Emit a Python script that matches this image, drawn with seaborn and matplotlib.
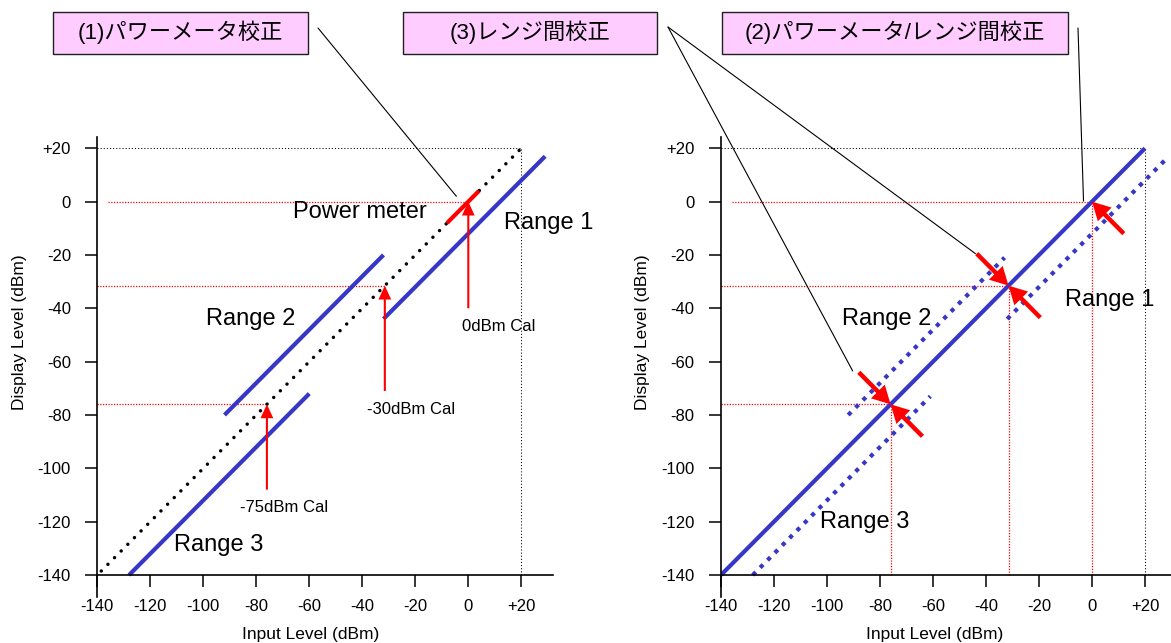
import numpy as np
import matplotlib
matplotlib.use("Agg")
import matplotlib.pyplot as plt
import seaborn as sns
from matplotlib.patches import Rectangle, ConnectionPatch

# ---- chart values (dBm) -------------------------------------------------
ticks = [-140, -120, -100, -80, -60, -40, -20, 0, 20]
tick_labels = ["-140", "-120", "-100", "-80", "-60", "-40", "-20", "0", "+20"]

# power meter reference: display level equals input level
pm_span = [-140, 20]
pm_cal_segment = [-8, 4]

# receiver ranges: input span and display offset against the power meter
range_names = ["Range 1", "Range 2", "Range 3"]
range_start = [-32, -92, -128]
range_stop = [29, -32, -60]
range_offset = [-12, 12, -12]

# calibration levels
cal_levels = [0, -31.5, -76]
cal_labels = ["0dBm Cal", "-30dBm Cal", "-75dBm Cal"]
cal_arrow_from = [-40, -71, -108]
cal_dotted_from = [-136, -140, -140]

# headings for the three calibration steps
step_titles = ["(1)パワーメータ校正", "(3)レンジ間校正", "(2)パワーメータ/レンジ間校正"]

# ---- styling --------------------------------------------------------------
W, H, DPI = 1171, 643, 100
PX_X, PX_Y = 2.65, 2.667          # pixels per dB
TOP_PX, BOT_PX, ZERO140_PX = 137.3, 596.7, 575.0
BLUE = "#3636C8"
RED = "#FF0000"
PINK = "#FFCCFF"
RED_DOTS = (0, (1, 1.2))

sns.set_theme(style="white")
plt.rcParams["font.family"] = ["Liberation Sans", "Noto Sans CJK JP", "DejaVu Sans"]

fig = plt.figure(figsize=(W / DPI, H / DPI), dpi=DPI)


def make_axes(left_px, right_px):
    ax = fig.add_axes([left_px / W, 1 - BOT_PX / H,
                       (right_px - left_px) / W, (BOT_PX - TOP_PX) / H])
    ax.set_facecolor("none")
    ax.set_xlim(-140, -140 + (right_px - left_px) / PX_X)
    ylo = -140 - (BOT_PX - ZERO140_PX) / PX_Y
    ax.set_ylim(ylo, ylo + (BOT_PX - TOP_PX) / PX_Y)
    for side in ("top", "right"):
        ax.spines[side].set_visible(False)
    for side in ("left", "bottom"):
        ax.spines[side].set_color("black")
        ax.spines[side].set_linewidth(1.2)
    ax.spines["bottom"].set_position(("data", -140))
    ax.set_xticks(ticks, labels=tick_labels)
    ax.set_yticks(ticks, labels=tick_labels)
    ax.tick_params(axis="both", which="major", direction="out", length=8.5,
                   width=1.1, color="black", labelsize=12, labelcolor="black",
                   bottom=True, left=True)
    ax.tick_params(axis="x", pad=9)
    ax.tick_params(axis="y", pad=10.5)
    ax.grid(False)

    width_px = right_px - left_px
    height_px = BOT_PX - TOP_PX
    ax.set_ylabel("Display Level (dBm)", fontsize=12.5, color="black",
                  va="center", ha="center")
    ax.yaxis.set_label_coords(-78 / width_px, (BOT_PX - 332.5) / height_px)
    ax.set_xlabel("Input Level (dBm)", fontsize=12.5, color="black",
                  va="center", ha="center")
    ax.xaxis.set_label_coords((-59.5 + 140) * PX_X / width_px,
                              (BOT_PX - 634) / height_px)

    # frame reference at +20 dBm
    ax.hlines(20, -140, 20, colors="black", linestyles=(0, (1, 2)), lw=0.75)
    ax.vlines(20, -140, 20, colors="black", linestyles=(0, (1, 2)), lw=0.75)
    return ax


def diag(ax, x0, x1, offset, **kw):
    xs = np.array([x0, x1], dtype=float)
    sns.lineplot(x=xs, y=xs + offset, ax=ax, estimator=None, sort=False, **kw)


def arrow(ax, tip, tail, width, headwidth, headlength):
    ax.annotate("", xy=tip, xytext=tail,
                arrowprops=dict(width=width, headwidth=headwidth,
                                headlength=headlength, shrink=0,
                                color=RED, lw=0))


# ---- left panel: (1) power meter calibration -----------------------------
axL = make_axes(97.3, 553.0)

for lvl, start in zip(cal_levels, cal_dotted_from):
    axL.hlines(lvl, start, lvl, colors=RED, linestyles=RED_DOTS, lw=0.9)

diag(axL, pm_span[0] + 1.5, pm_span[1], 0, color="black", lw=2.5,
     linestyle=(0, (0.01, 2.7)), dash_capstyle="round")
for x0, x1, off in zip(range_start, range_stop, range_offset):
    diag(axL, x0, x1, off, color=BLUE, lw=3, solid_capstyle="butt")
diag(axL, pm_cal_segment[0], pm_cal_segment[1], 0, color=RED, lw=3,
     solid_capstyle="butt")

for lvl, base in zip(cal_levels, cal_arrow_from):
    arrow(axL, (lvl, lvl), (lvl, base), 1.5, 9.2, 10)

axL.text(-40.9, -4.0, "Power meter", fontsize=17, ha="center", va="center", color="black")
for name, pos in zip(range_names, [(30.2, -8.2), (-82.2, -44.1), (-94.2, -128.7)]):
    axL.text(*pos, name, fontsize=17, ha="center", va="center", color="black")
for lab, pos in zip(cal_labels, [(11.3, -46.7), (-21.6, -78.0), (-69.5, -114.7)]):
    axL.text(*pos, lab, fontsize=12, ha="center", va="center", color="black")

# ---- right panel: (2)/(3) range calibration -------------------------------
axR = make_axes(721.0, 1171.0)

for lvl, start in zip(cal_levels, cal_dotted_from):
    axR.hlines(lvl, start, lvl, colors=RED, linestyles=RED_DOTS, lw=0.9)
    axR.vlines(lvl, -140, lvl, colors=RED, linestyles=RED_DOTS, lw=0.9)

for x0, x1, off in zip(range_start, range_stop, range_offset):
    diag(axR, x0, x1 - 1, off, color=BLUE, lw=3, linestyle=(0, (1, 1.5)),
         dash_capstyle="butt")
diag(axR, pm_span[0], pm_span[1], 0, color=BLUE, lw=3, solid_capstyle="butt")

right_arrow_dirs = [(1,), (-1, 1), (-1, 1)]
for lvl, dirs in zip(cal_levels, right_arrow_dirs):
    for d in dirs:
        arrow(axR, (lvl, lvl), (lvl + 12 * d, lvl - 12 * d), 3.2, 14, 13)

for name, pos in zip(range_names, [(6.7, -37.0), (-77.5, -44.1), (-85.7, -120.3)]):
    axR.text(*pos, name, fontsize=17, ha="center", va="center", color="black")

# ---- step headings and leader lines --------------------------------------
boxes = [(53.3, 308.0), (402.7, 657.0), (721.7, 1068.0)]
box_top, box_bot = 11.7, 53.5
for (x0, x1), title in zip(boxes, step_titles):
    fig.add_artist(Rectangle((x0 / W, 1 - box_bot / H), (x1 - x0) / W,
                             (box_bot - box_top) / H, transform=fig.transFigure,
                             facecolor=PINK, edgecolor="#202020", lw=1.0))
    fig.text((x0 + x1) / 2 / W, 1 - (box_top + box_bot) / 2 / H, title,
             fontsize=16, ha="center", va="center", color="black")

leaders = [((318, 28), axL, (-4.5, 2.0)),
           ((668, 27), axR, (-90.3, -63.5)),
           ((668, 27), axR, (-44.0, -19.5)),
           ((1078, 28), axR, (-3.2, 0.2))]
for (px, py), ax, pt in leaders:
    fig.add_artist(ConnectionPatch(xyA=(px, H - py), coordsA="figure pixels",
                                   xyB=pt, coordsB="data", axesB=ax,
                                   color="black", lw=0.8))

fig.savefig("out.png", dpi=DPI)
